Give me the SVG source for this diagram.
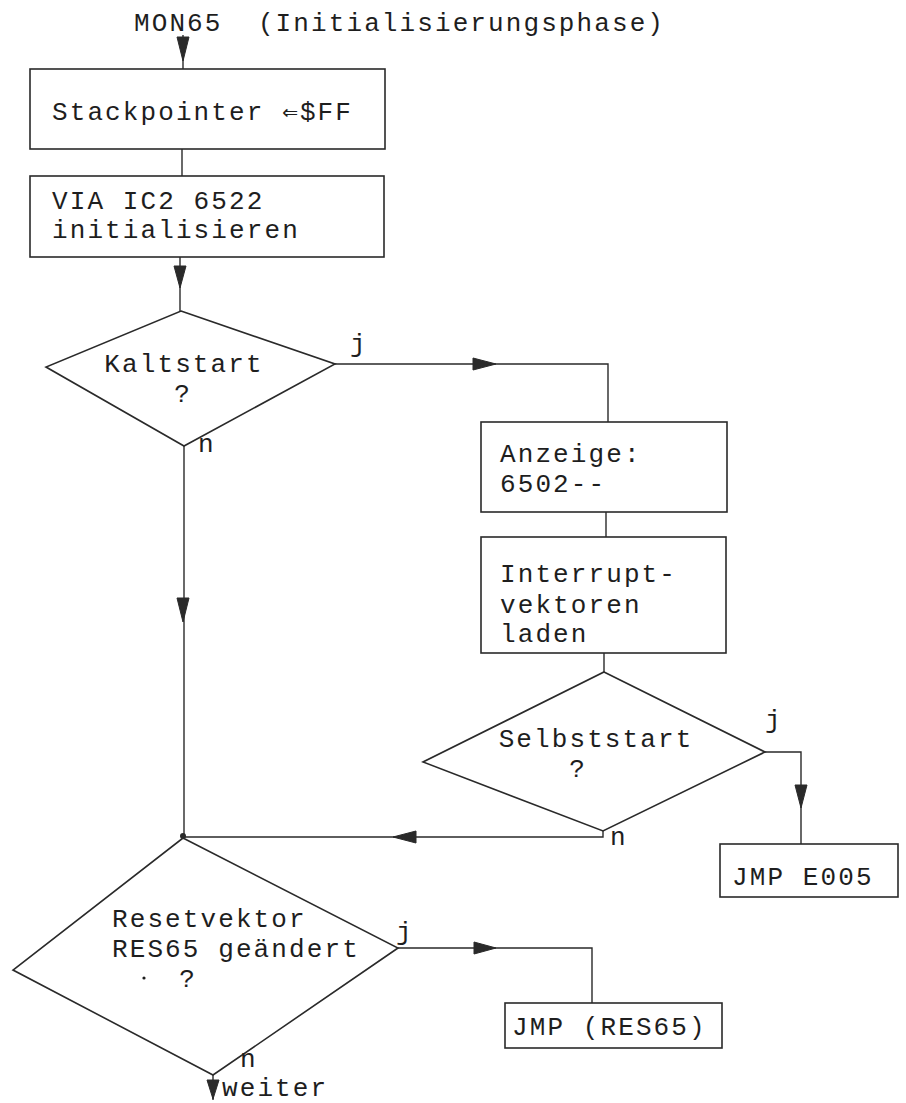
<svg xmlns="http://www.w3.org/2000/svg" width="906" height="1103" viewBox="0 0 906 1103">
<style>
text{font-family:"Liberation Mono","DejaVu Sans Mono",monospace;font-size:26px;letter-spacing:2.1px;fill:#1e1e1e}
.b{fill:none;stroke:#2a2a2a;stroke-width:1.6}
.c{fill:none;stroke:#2a2a2a;stroke-width:1.4}
.ah{fill:#2a2a2a;stroke:#2a2a2a;stroke-width:1}
</style>
<rect width="906" height="1103" fill="#fff"/>
<text x="134" y="31" xml:space="preserve">MON65  (Initialisierungsphase)</text>
<g id="connectors">
<path class="c" d="M183,35 V69"/>
<polygon class="ah" points="177,37 189,37 183,61"/>
<path class="c" d="M182,149 V176"/>
<path class="c" d="M180,257 V311"/>
<polygon class="ah" points="174,266 186,266 180,288"/>
<path class="c" d="M335,364 H608 V422"/>
<polygon class="ah" points="473,358 473,370 496,364"/>
<path class="c" d="M606,512 V537"/>
<path class="c" d="M604,653 V672"/>
<path class="c" d="M765,752 H801 V844"/>
<polygon class="ah" points="795,785 807,785 801,808"/>
<path class="c" d="M603,831 V837 H183"/>
<polygon class="ah" points="416,831 416,843 393,837"/>
<path class="c" d="M184,446 V838"/>
<polygon class="ah" points="177,598 189,598 183,622"/>
<circle cx="183" cy="836" r="3" fill="#2a2a2a"/>
<path class="c" d="M398,948 H592 V1003"/>
<polygon class="ah" points="474,942 474,954 496,948"/>
<path class="c" d="M213,1075 V1100"/>
<polygon class="ah" points="207,1080 219,1080 213,1099"/>
</g>
<g id="n-stack">
<rect class="b" x="30" y="69" width="355" height="80"/>
<text x="52" y="120">Stackpointer ⇐$FF</text>
</g>
<g id="n-via">
<rect class="b" x="30" y="176" width="354" height="81"/>
<text x="52" y="209">VIA IC2 6522</text>
<text x="52" y="238">initialisieren</text>
</g>
<g id="d-kalt">
<polygon class="b" points="181,311 335,364 184,446 46,367"/>
<text x="184" y="372" text-anchor="middle">Kaltstart</text>
<text x="183" y="402" text-anchor="middle">?</text>
<text x="350" y="352">j</text>
<text x="198" y="452">n</text>
</g>
<g id="n-anzeige">
<rect class="b" x="481" y="422" width="246" height="90"/>
<text x="500" y="462">Anzeige:</text>
<text x="500" y="492">6502--</text>
</g>
<g id="n-interrupt">
<rect class="b" x="481" y="537" width="245" height="116"/>
<text x="500" y="582">Interrupt-</text>
<text x="500" y="613">vektoren</text>
<text x="500" y="642">laden</text>
</g>
<g id="d-selbst">
<polygon class="b" points="604,672 765,752 603,831 423,762"/>
<text x="596" y="747" text-anchor="middle">Selbststart</text>
<text x="578" y="777" text-anchor="middle">?</text>
<text x="765" y="728">j</text>
<text x="610" y="845">n</text>
</g>
<g id="n-e005">
<rect class="b" x="720" y="844" width="178" height="53"/>
<text x="732" y="885">JMP E005</text>
</g>
<g id="d-reset">
<polygon class="b" points="183,838 398,948 213,1075 13,970"/>
<text x="112" y="927">Resetvektor</text>
<text x="112" y="957">RES65 geändert</text>
<circle cx="144" cy="978" r="1.6" fill="#1e1e1e"/>
<text x="188" y="987" text-anchor="middle">?</text>
<text x="396" y="940">j</text>
<text x="240" y="1067">n</text>
</g>
<g id="n-res65">
<rect class="b" x="505" y="1003" width="217" height="45"/>
<text x="512" y="1035">JMP (RES65)</text>
</g>
<text x="222" y="1096">weiter</text>
</svg>
